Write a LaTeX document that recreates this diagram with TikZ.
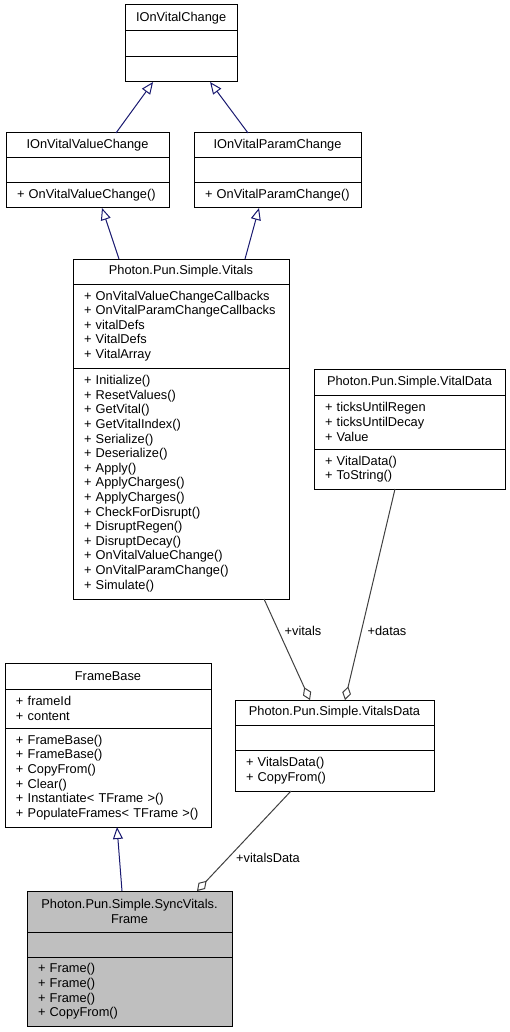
\documentclass[tikz,border=0pt]{standalone}
\usepackage{fontspec}
\setmainfont{Liberation Sans}
\usepackage{xcolor}
\usepackage{tikz}
\usetikzlibrary{arrows.meta,positioning,shapes}

\definecolor{edgenavy}{HTML}{191970}
\definecolor{edgegray}{HTML}{404040}
\definecolor{framegray}{HTML}{BFBFBF}

\tikzset{
  umlhead/.style={draw, line width=1pt, inner xsep=11pt, inner ysep=0pt, outer sep=0pt, align=center, minimum height=26pt},
  umlpart/.style={draw, line width=1pt, inner xsep=11pt, inner ysep=0pt, outer sep=0pt, align=left},
  inherit/.style={draw=edgenavy, line width=1pt, -{Triangle[open, fill=white, length=12pt, width=10pt]}},
  member/.style={draw=edgegray, line width=1pt, -{Diamond[open, fill=white, length=14pt, width=9pt]}},
}

\begin{document}
\begin{tikzpicture}[x=1pt, y=-1pt, font=\fontsize{12.8}{14.6}\selectfont]
\useasboundingbox (0,0) rectangle (510,1032);

% interfaces
\node[umlhead, minimum width=112pt, anchor=north west] (ivc-t) at (125,5) {IOnVitalChange};
\node[umlpart, text width=90pt, minimum height=26pt, below=0pt of ivc-t] (ivc-a) {};
\node[umlpart, text width=90pt, minimum height=25pt, below=0pt of ivc-a] (ivc-m) {};

\node[umlhead, minimum width=163pt, minimum height=25pt, anchor=north west] (ivvc-t) at (6,133) {IOnVitalValueChange};
\node[umlpart, text width=141pt, minimum height=25pt, below=0pt of ivvc-t] (ivvc-a) {};
\node[umlpart, text width=141pt, minimum height=25pt, below=0pt of ivvc-a] (ivvc-m) {+ OnVitalValueChange()};

\node[umlhead, minimum width=167pt, minimum height=25pt, anchor=north west] (ipc-t) at (194,133) {IOnVitalParamChange};
\node[umlpart, text width=145pt, minimum height=25pt, below=0pt of ipc-t] (ipc-a) {};
\node[umlpart, text width=145pt, minimum height=25pt, below=0pt of ipc-a] (ipc-m) {+ OnVitalParamChange()};

% vitals
\node[umlhead, minimum width=216pt, minimum height=25pt, anchor=north west] (vit-t) at (73,259) {Photon.Pun.Simple.Vitals};
\node[umlpart, text width=194pt, minimum height=84pt, below=0pt of vit-t] (vit-a) {+ OnVitalValueChangeCallbacks\\+ OnVitalParamChangeCallbacks\\+ vitalDefs\\+ VitalDefs\\+ VitalArray};
\node[umlpart, text width=194pt, minimum height=231pt, below=0pt of vit-a] (vit-m) {+ Initialize()\\+ ResetValues()\\+ GetVital()\\+ GetVitalIndex()\\+ Serialize()\\+ Deserialize()\\+ Apply()\\+ ApplyCharges()\\+ ApplyCharges()\\+ CheckForDisrupt()\\+ DisruptRegen()\\+ DisruptDecay()\\+ OnVitalValueChange()\\+ OnVitalParamChange()\\+ Simulate()};

\node[umlhead, minimum width=191pt, anchor=north west] (vd-t) at (314,369) {Photon.Pun.Simple.VitalData};
\node[umlpart, text width=169pt, minimum height=54pt, below=0pt of vd-t] (vd-a) {+ ticksUntilRegen\\+ ticksUntilDecay\\+ Value};
\node[umlpart, text width=169pt, minimum height=40pt, below=0pt of vd-a] (vd-m) {+ VitalData()\\+ ToString()};

% frames
\node[umlhead, minimum width=206pt, anchor=north west] (fb-t) at (5,663) {FrameBase};
\node[umlpart, text width=184pt, minimum height=39pt, below=0pt of fb-t] (fb-a) {+ frameId\\+ content};
\node[umlpart, text width=184pt, minimum height=99pt, below=0pt of fb-a] (fb-m) {+ FrameBase()\\+ FrameBase()\\+ CopyFrom()\\+ Clear()\\+ Instantiate< TFrame >()\\+ PopulateFrames< TFrame >()};

\node[umlhead, minimum width=199pt, minimum height=25pt, anchor=north west] (vsd-t) at (235,700) {Photon.Pun.Simple.VitalsData};
\node[umlpart, text width=177pt, minimum height=25pt, below=0pt of vsd-t] (vsd-a) {};
\node[umlpart, text width=177pt, minimum height=41pt, below=0pt of vsd-a] (vsd-m) {+ VitalsData()\\+ CopyFrom()};

\node[umlhead, fill=framegray, minimum width=205pt, minimum height=41pt, anchor=north west] (frm-t) at (27,891) {Photon.Pun.Simple.SyncVitals.\\Frame};
\node[umlpart, fill=framegray, text width=183pt, minimum height=25pt, below=0pt of frm-t] (frm-a) {};
\node[umlpart, fill=framegray, text width=183pt, minimum height=69pt, below=0pt of frm-a] (frm-m) {+ Frame()\\+ Frame()\\+ Frame()\\+ CopyFrom()};

% inheritance
\draw[inherit] ([xshift=110pt]ivvc-t.north west) -- ([xshift=28pt]ivc-m.south west);
\draw[inherit] ([xshift=54pt]ipc-t.north west) -- ([xshift=85pt]ivc-m.south west);
\draw[inherit] ([xshift=46pt]vit-t.north west) -- ([xshift=96pt]ivvc-m.south west);
\draw[inherit] ([xshift=172pt]vit-t.north west) -- ([xshift=65pt]ipc-m.south west);
\draw[inherit] ([xshift=95pt]frm-t.north west) -- ([xshift=112pt]fb-m.south west);

% members
\draw[member] ([xshift=191pt]vit-m.south west) -- ([xshift=75pt]vsd-t.north west);
\draw[member] ([xshift=81pt]vd-m.south west) -- ([xshift=110pt]vsd-t.north west);
\draw[member] ([xshift=56pt]vsd-m.south west) -- ([xshift=170pt]frm-t.north west);

\node (lbl-vitals) at (303,631) {+vitals};
\node (lbl-datas) at (387,631) {+datas};
\node (lbl-vitalsdata) at (268,858) {+vitalsData};
\end{tikzpicture}
\end{document}
